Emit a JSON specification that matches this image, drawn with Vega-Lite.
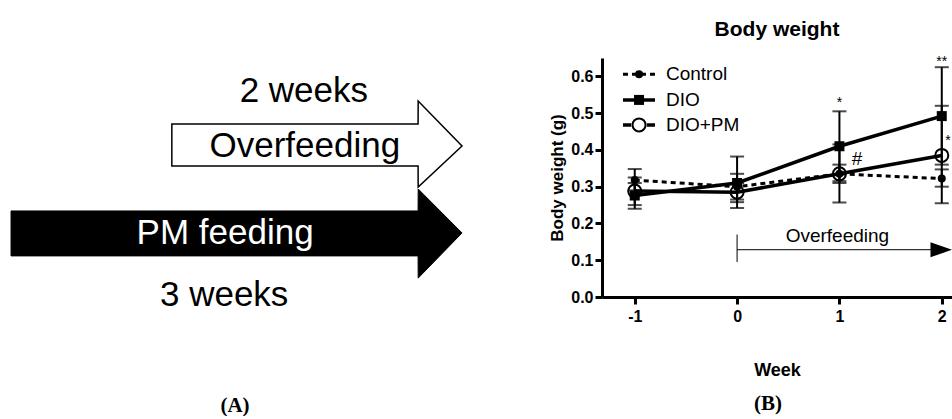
{
  "$schema": "https://vega.github.io/schema/vega-lite/v6.json",
  "padding": {"top": 18, "left": 0, "right": 0, "bottom": 0},
  "background": "white",
  "bounds": "flush",
  "spacing": 122,
  "config": {
    "view": {"stroke": null},
    "font": "Liberation Sans"
  },
  "datasets": {
    "errs": [
      {"week": -1, "group": "Control", "val": 0.29, "val2": 0.348},
      {"week": 0, "group": "Control", "val": 0.265, "val2": 0.335},
      {"week": 1, "group": "Control", "val": 0.31, "val2": 0.36},
      {"week": 2, "group": "Control", "val": 0.3, "val2": 0.347},
      {"week": -1, "group": "DIO", "val": 0.24, "val2": 0.31},
      {"week": 0, "group": "DIO", "val": 0.242, "val2": 0.382},
      {"week": 1, "group": "DIO", "val": 0.315, "val2": 0.505},
      {"week": 2, "group": "DIO", "val": 0.36, "val2": 0.625},
      {"week": -1, "group": "DIO+PM", "val": 0.25, "val2": 0.325},
      {"week": 0, "group": "DIO+PM", "val": 0.258, "val2": 0.31},
      {"week": 1, "group": "DIO+PM", "val": 0.257, "val2": 0.415},
      {"week": 2, "group": "DIO+PM", "val": 0.255, "val2": 0.52}
    ],
    "series": [
      {"week": -1, "group": "Control", "val": 0.318},
      {"week": 0, "group": "Control", "val": 0.3},
      {"week": 1, "group": "Control", "val": 0.335},
      {"week": 2, "group": "Control", "val": 0.322},
      {"week": -1, "group": "DIO", "val": 0.276},
      {"week": 0, "group": "DIO", "val": 0.31},
      {"week": 1, "group": "DIO", "val": 0.41},
      {"week": 2, "group": "DIO", "val": 0.492},
      {"week": -1, "group": "DIO+PM", "val": 0.288},
      {"week": 0, "group": "DIO+PM", "val": 0.285},
      {"week": 1, "group": "DIO+PM", "val": 0.335},
      {"week": 2, "group": "DIO+PM", "val": 0.385}
    ],
    "legLines": [
      {"label": "Control", "week": -1.115, "week2": -0.802, "val": 0.606},
      {"label": "DIO", "week": -1.115, "week2": -0.802, "val": 0.536},
      {"label": "DIO+PM", "week": -1.115, "week2": -0.802, "val": 0.468}
    ],
    "legPts": [
      {"label": "Control", "week": -0.958, "val": 0.606},
      {"label": "DIO", "week": -0.958, "val": 0.536},
      {"label": "DIO+PM", "week": -0.958, "val": 0.468}
    ],
    "legText": [
      {"label": "Control", "week": -0.695, "val": 0.606},
      {"label": "DIO", "week": -0.695, "val": 0.536},
      {"label": "DIO+PM", "week": -0.695, "val": 0.468}
    ]
  },
  "hconcat": [
    {
      "width": 480,
      "height": 239,
      "encoding": {
        "x": {"field": "x", "type": "quantitative", "scale": {"domain": [0, 100]}, "axis": null},
        "y": {"field": "y", "type": "quantitative", "scale": {"domain": [0, 100]}, "axis": null}
      },
      "layer": [
        {
          "data": {"values": [
            {"x": 35.8, "y": 72.4, "y2": 54.8},
            {"x": 87.1, "y": 72.4, "y2": 54.8},
            {"x": 87.12, "y": 82.0, "y2": 46.0},
            {"x": 96.25, "y": 63.2, "y2": 63.2}
          ]},
          "mark": {"type": "area", "fill": "white", "stroke": "black", "strokeWidth": 1.5, "strokeJoin": "miter"},
          "encoding": {"y2": {"field": "y2"}}
        },
        {
          "data": {"values": [
            {"x": 2.3, "y": 36.0, "y2": 17.2},
            {"x": 87.1, "y": 36.0, "y2": 17.2},
            {"x": 87.12, "y": 45.2, "y2": 7.9},
            {"x": 96.25, "y": 26.8, "y2": 26.8}
          ]},
          "mark": {"type": "area", "fill": "black", "stroke": "black", "strokeWidth": 1, "strokeJoin": "miter"},
          "encoding": {"y2": {"field": "y2"}}
        },
        {
          "data": {"values": [
            {"label": "2 weeks", "x": 63.3, "y": 86.0},
            {"label": "Overfeeding", "x": 63.5, "y": 63.2},
            {"label": "3 weeks", "x": 46.7, "y": 0.8}
          ]},
          "mark": {"type": "text", "fontSize": 35, "color": "black", "align": "center", "baseline": "middle"},
          "encoding": {"text": {"field": "label"}}
        },
        {
          "data": {"values": [{"label": "PM feeding", "x": 46.9, "y": 26.8}]},
          "mark": {"type": "text", "fontSize": 35, "color": "white", "align": "center", "baseline": "middle"},
          "encoding": {"text": {"field": "label"}}
        },
        {
          "data": {"values": [{"label": "(A)", "x": 48.96, "y": -45.5}]},
          "mark": {"type": "text", "fontSize": 21, "font": "Liberation Serif", "fontWeight": "bold", "color": "black", "align": "center", "baseline": "middle"},
          "encoding": {"text": {"field": "label"}}
        }
      ]
    },
    {
      "width": 350,
      "height": 239,
      "title": {"text": "Body weight", "fontSize": 21, "fontWeight": "bold", "font": "Liberation Sans", "color": "black", "offset": 15},
      "encoding": {
        "x": {"field": "week", "type": "quantitative", "scale": {"domain": [-1.32, 2.1], "nice": false, "zero": false},
          "axis": {"values": [-1, 0, 1, 2], "title": "Week", "grid": false,
            "labelExpr": "datum.value < 0 ? '-' + abs(datum.value) : '' + datum.value",
            "labelFont": "Liberation Sans", "labelFontSize": 16, "labelFontWeight": "bold", "labelColor": "black",
            "labelOverlap": false, "labelFlush": false, "labelPadding": 4,
            "tickSize": 7, "tickWidth": 3, "domainWidth": 3, "tickColor": "black", "domainColor": "black",
            "titleFont": "Liberation Sans", "titleFontSize": 18, "titleFontWeight": "bold", "titleColor": "black", "titlePadding": 37}},
        "y": {"field": "val", "type": "quantitative", "scale": {"domain": [0, 0.65], "nice": false},
          "axis": {"values": [0, 0.1, 0.2, 0.3, 0.4, 0.5, 0.6], "format": ".1f", "title": "Body weight (g)", "grid": false,
            "labelFont": "Liberation Sans", "labelFontSize": 16, "labelFontWeight": "bold", "labelColor": "black",
            "labelOverlap": false, "labelPadding": 2,
            "tickSize": 7, "tickWidth": 3, "domainWidth": 3, "tickColor": "black", "domainColor": "black",
            "titleFont": "Liberation Sans", "titleFontSize": 17, "titleFontWeight": "bold", "titleColor": "black", "titlePadding": 4}}
      },
      "layer": [
        {
          "data": {"name": "errs"},
          "mark": {"type": "rule", "strokeWidth": 2, "color": "black"},
          "encoding": {"y2": {"field": "val2"}}
        },
        {
          "data": {"name": "errs"},
          "mark": {"type": "tick", "orient": "horizontal", "size": 14, "thickness": 2, "color": "black"}
        },
        {
          "data": {"name": "errs"},
          "mark": {"type": "tick", "orient": "horizontal", "size": 14, "thickness": 2, "color": "black"},
          "encoding": {"y": {"field": "val2", "type": "quantitative"}}
        },
        {
          "data": {"name": "series"},
          "transform": [{"filter": "datum.group === 'Control'"}],
          "mark": {"type": "line", "strokeWidth": 3, "strokeDash": [5, 4], "color": "black"}
        },
        {
          "data": {"name": "series"},
          "transform": [{"filter": "datum.group !== 'Control'"}],
          "mark": {"type": "line", "strokeWidth": 3.5, "color": "black"},
          "encoding": {"detail": {"field": "group"}}
        },
        {
          "data": {"name": "series"},
          "transform": [{"filter": "datum.group === 'Control'"}],
          "mark": {"type": "point", "shape": "circle", "filled": true, "size": 64, "color": "black", "opacity": 1}
        },
        {
          "data": {"name": "series"},
          "transform": [{"filter": "datum.group === 'DIO'"}],
          "mark": {"type": "point", "shape": "square", "filled": true, "size": 100, "color": "black", "opacity": 1}
        },
        {
          "data": {"name": "series"},
          "transform": [{"filter": "datum.group === 'DIO+PM'"}],
          "mark": {"type": "point", "shape": "circle", "filled": false, "size": 170, "strokeWidth": 2, "color": "black", "opacity": 1}
        },
        {
          "data": {"name": "legLines"},
          "transform": [{"filter": "datum.label === 'Control'"}],
          "mark": {"type": "rule", "strokeWidth": 3, "strokeDash": [5, 4], "color": "black"},
          "encoding": {"x2": {"field": "week2"}}
        },
        {
          "data": {"name": "legLines"},
          "transform": [{"filter": "datum.label !== 'Control'"}],
          "mark": {"type": "rule", "strokeWidth": 3.5, "color": "black"},
          "encoding": {"x2": {"field": "week2"}}
        },
        {
          "data": {"name": "legPts"},
          "transform": [{"filter": "datum.label === 'Control'"}],
          "mark": {"type": "point", "shape": "circle", "filled": true, "size": 64, "color": "black", "opacity": 1}
        },
        {
          "data": {"name": "legPts"},
          "transform": [{"filter": "datum.label === 'DIO'"}],
          "mark": {"type": "point", "shape": "square", "filled": true, "size": 100, "color": "black", "opacity": 1}
        },
        {
          "data": {"name": "legPts"},
          "transform": [{"filter": "datum.label === 'DIO+PM'"}],
          "mark": {"type": "point", "shape": "circle", "filled": true, "size": 250, "color": "white", "opacity": 1}
        },
        {
          "data": {"name": "legPts"},
          "transform": [{"filter": "datum.label === 'DIO+PM'"}],
          "mark": {"type": "point", "shape": "circle", "filled": false, "size": 170, "strokeWidth": 2, "color": "black", "opacity": 1}
        },
        {
          "data": {"name": "legText"},
          "mark": {"type": "text", "fontSize": 19, "align": "left", "baseline": "middle", "color": "black"},
          "encoding": {"text": {"field": "label"}}
        },
        {
          "data": {"values": [
            {"label": "*", "week": 1.0, "val": 0.527},
            {"label": "**", "week": 2.0, "val": 0.64},
            {"label": "*", "week": 2.06, "val": 0.425}
          ]},
          "mark": {"type": "text", "fontSize": 14, "align": "center", "baseline": "middle", "color": "black"},
          "encoding": {"text": {"field": "label"}}
        },
        {
          "data": {"values": [{"label": "#", "week": 1.172, "val": 0.375}]},
          "mark": {"type": "text", "fontSize": 19, "align": "center", "baseline": "middle", "color": "black"},
          "encoding": {"text": {"field": "label"}}
        },
        {
          "data": {"values": [{"week": 0, "week2": 1.9, "val": 0.1286}]},
          "mark": {"type": "rule", "strokeWidth": 1, "color": "black"},
          "encoding": {"x2": {"field": "week2"}}
        },
        {
          "data": {"values": [{"week": 0, "val": 0.095, "val2": 0.17}]},
          "mark": {"type": "rule", "strokeWidth": 1, "color": "black"},
          "encoding": {"y2": {"field": "val2"}}
        },
        {
          "data": {"values": [
            {"week": 1.89, "val": 0.149, "val2": 0.108},
            {"week": 2.1, "val": 0.1286, "val2": 0.1286}
          ]},
          "mark": {"type": "area", "color": "black", "opacity": 1},
          "encoding": {"y2": {"field": "val2"}}
        },
        {
          "data": {"values": [{"label": "Overfeeding", "week": 0.98, "val": 0.166}]},
          "mark": {"type": "text", "fontSize": 19, "align": "center", "baseline": "middle", "color": "black"},
          "encoding": {"text": {"field": "label"}}
        },
        {
          "data": {"values": [{"label": "(B)", "week": 0.302, "val": -0.29}]},
          "mark": {"type": "text", "fontSize": 21, "font": "Liberation Serif", "fontWeight": "bold", "align": "center", "baseline": "middle", "color": "black"},
          "encoding": {"text": {"field": "label"}}
        }
      ]
    }
  ]
}
